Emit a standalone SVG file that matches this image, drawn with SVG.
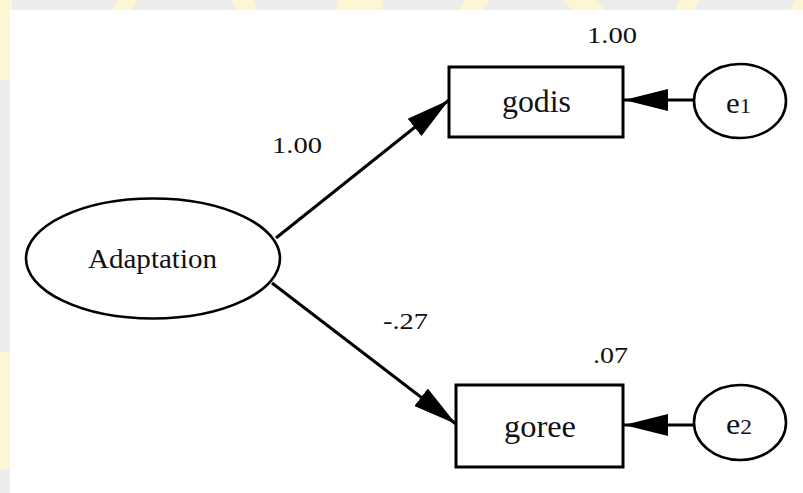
<svg xmlns="http://www.w3.org/2000/svg" width="803" height="493" viewBox="0 0 803 493">
  <style>
    .ln { stroke: #000; stroke-width: 3; fill: none; }
    .box { stroke: #000; stroke-width: 3; fill: #fff; }
    .ov { stroke: #000; stroke-width: 2.6; fill: #fff; }
    .t { font-family: "Liberation Serif", "Times New Roman", serif; fill: #111; text-anchor: start; }
    .wm { fill: #fdf6d3; }
  </style>
  <defs>
    <marker id="arr" markerUnits="userSpaceOnUse" markerWidth="46" markerHeight="24" refX="44" refY="12" orient="auto">
      <path d="M0,1 L44,12 L0,23 z" fill="#000"/>
    </marker>
  </defs>
  <g id="background">
    <rect x="0" y="0" width="803" height="493" fill="#ebeceb"/>
    <path class="wm" d="M0,0 L12,0 L12,80 L0,80 z"/>
    <path class="wm" d="M118,0 L138,0 L132,10 L112,10 z"/>
    <path class="wm" d="M232,0 L254,0 L258,10 L236,10 z"/>
    <path class="wm" d="M338,0 L384,0 L382,10 L336,10 z"/>
    <path class="wm" d="M465,0 L490,0 L482,10 L458,10 z"/>
    <path class="wm" d="M563,0 L597,0 L606,10 L572,10 z"/>
    <path class="wm" d="M680,0 L700,0 L694,10 L674,10 z"/>
    <path class="wm" d="M795,0 L803,0 L803,10 L790,10 z"/>
    <path class="wm" d="M0,352 L12,352 L12,470 L0,470 z"/>
    <rect x="10" y="10" width="793" height="483" fill="#fff"/>
  </g>
  <g id="connectors">
    <line class="ln" x1="276" y1="238" x2="449" y2="100" marker-end="url(#arr)"/>
    <line class="ln" x1="272" y1="283" x2="456" y2="424" marker-end="url(#arr)"/>
    <line class="ln" x1="694" y1="100" x2="624" y2="100" marker-end="url(#arr)"/>
    <line class="ln" x1="694" y1="425" x2="624" y2="425" marker-end="url(#arr)"/>
  </g>
  <g id="Adaptation">
    <ellipse class="ov" cx="153" cy="258.5" rx="127" ry="60"/>
    <text class="t" x="88" y="268" font-size="27" textLength="129" lengthAdjust="spacingAndGlyphs">Adaptation</text>
  </g>
  <g id="godis">
    <rect class="box" x="449" y="67" width="174" height="70"/>
    <text class="t" x="502" y="112" font-size="31" textLength="69" lengthAdjust="spacingAndGlyphs">godis</text>
    <text class="t" x="587" y="43" font-size="24" textLength="50" lengthAdjust="spacingAndGlyphs">1.00</text>
  </g>
  <g id="goree">
    <rect class="box" x="456" y="385" width="167" height="82"/>
    <text class="t" x="504" y="437" font-size="31" textLength="72" lengthAdjust="spacingAndGlyphs">goree</text>
    <text class="t" x="593" y="363" font-size="24" textLength="35" lengthAdjust="spacingAndGlyphs">.07</text>
  </g>
  <g id="e1">
    <ellipse class="ov" cx="740" cy="101" rx="46" ry="37"/>
    <text class="t" x="726" y="113" font-size="30" textLength="25" lengthAdjust="spacingAndGlyphs">e<tspan font-size="22">1</tspan></text>
  </g>
  <g id="e2">
    <ellipse class="ov" cx="740" cy="422.5" rx="46" ry="37.5"/>
    <text class="t" x="726" y="434" font-size="30" textLength="26" lengthAdjust="spacingAndGlyphs">e<tspan font-size="22">2</tspan></text>
  </g>
  <g id="labels">
    <text class="t" x="272" y="153" font-size="24" textLength="50" lengthAdjust="spacingAndGlyphs">1.00</text>
    <text class="t" x="383" y="329" font-size="24" textLength="45" lengthAdjust="spacingAndGlyphs">-.27</text>
  </g>
</svg>
